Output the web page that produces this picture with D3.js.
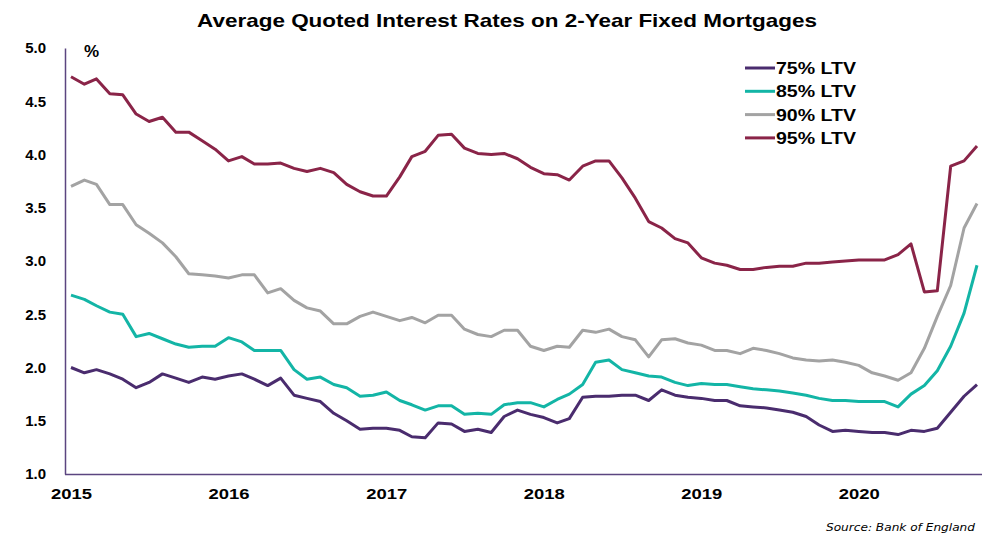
<!DOCTYPE html>
<html>
<head>
<meta charset="utf-8">
<script src="https://cdn.jsdelivr.net/npm/d3@7"></script>
<style>
  html, body { margin: 0; padding: 0; background: #ffffff; }
  svg { display: block; }
  text { font-family: "Liberation Sans", Arial, sans-serif; }
</style>
</head>
<body>
<svg id="chart" width="991" height="534"></svg>
<script>
// ---- Data (monthly, Jan 2015 – Oct 2020) ----
const startMonth = "2015-01";
const yearLabels = ["2015", "2016", "2017", "2018", "2019", "2020"];
const yTicks = [1.0, 1.5, 2.0, 2.5, 3.0, 3.5, 4.0, 4.5, 5.0];
const seriesNames = ["75% LTV", "85% LTV", "90% LTV", "95% LTV"];

const ltv75 = [2.00,1.95,1.98,1.94,1.89,1.81,1.86,1.94,1.90,1.86,1.91,1.89,
               1.92,1.94,1.89,1.83,1.90,1.74,1.71,1.68,1.57,1.50,1.42,1.43,
               1.43,1.41,1.35,1.34,1.48,1.47,1.40,1.42,1.39,1.54,1.60,1.56,
               1.53,1.48,1.52,1.72,1.73,1.73,1.74,1.74,1.69,1.79,1.74,1.72,
               1.71,1.69,1.69,1.64,1.63,1.62,1.60,1.58,1.54,1.46,1.40,1.41,
               1.40,1.39,1.39,1.37,1.41,1.40,1.43,1.58,1.73,1.84];
const ltv85 = [2.68,2.64,2.58,2.52,2.50,2.29,2.32,2.27,2.22,2.19,2.20,2.20,
               2.28,2.24,2.16,2.16,2.16,1.98,1.89,1.91,1.84,1.81,1.73,1.74,
               1.77,1.69,1.65,1.60,1.64,1.64,1.56,1.57,1.56,1.65,1.67,1.67,
               1.63,1.70,1.75,1.84,2.05,2.07,1.98,1.95,1.92,1.91,1.86,1.83,
               1.85,1.84,1.84,1.82,1.80,1.79,1.78,1.76,1.74,1.71,1.69,1.69,
               1.68,1.68,1.68,1.63,1.75,1.83,1.97,2.20,2.51,2.96];
const ltv90 = [3.70,3.76,3.72,3.53,3.53,3.34,3.26,3.17,3.04,2.88,2.87,2.86,
               2.84,2.87,2.87,2.70,2.74,2.63,2.56,2.53,2.41,2.41,2.48,2.52,
               2.48,2.44,2.47,2.42,2.49,2.49,2.36,2.31,2.29,2.35,2.35,2.20,
               2.16,2.20,2.19,2.35,2.33,2.36,2.29,2.26,2.10,2.26,2.27,2.23,
               2.21,2.16,2.16,2.13,2.18,2.16,2.13,2.09,2.07,2.06,2.07,2.05,
               2.02,1.95,1.92,1.88,1.95,2.18,2.48,2.77,3.31,3.54];
const ltv95 = [4.73,4.66,4.71,4.57,4.56,4.38,4.31,4.35,4.21,4.21,4.13,4.05,
               3.94,3.98,3.91,3.91,3.92,3.87,3.84,3.87,3.83,3.72,3.65,3.61,
               3.61,3.79,3.98,4.03,4.18,4.19,4.06,4.01,4.00,4.01,3.96,3.88,
               3.82,3.81,3.76,3.89,3.94,3.94,3.78,3.59,3.37,3.31,3.21,3.17,
               3.03,2.98,2.96,2.92,2.92,2.94,2.95,2.95,2.98,2.98,2.99,3.00,
               3.01,3.01,3.01,3.06,3.16,2.71,2.72,3.89,3.94,4.08];
const seriesColors = ["#4a2c6e", "#13b5a6", "#a3a3a3", "#8a2448"];

// ---- Setup ----
const svg = d3.select("#chart");
const parseMonth = d3.timeParse("%Y-%m");
const months = d3.timeMonth.range(parseMonth(startMonth), d3.timeMonth.offset(parseMonth(startMonth), ltv75.length));
const allSeries = [ltv75, ltv85, ltv90, ltv95];

const x = d3.scaleTime()
  .domain([months[0], months[months.length - 1]])
  .range([71, 977]);
const y = d3.scaleLinear().domain([1, 5]).range([474, 48]);

const axisColor = "#5b4680";

// Title
svg.append("text")
  .attr("x", 197).attr("y", 27)
  .attr("font-size", 19).attr("font-weight", "bold")
  .attr("fill", "#000")
  .attr("textLength", 620).attr("lengthAdjust", "spacingAndGlyphs")
  .text("Average Quoted Interest Rates on 2-Year Fixed Mortgages");

// Y axis labels
const yAxis = d3.axisLeft(y).tickValues(yTicks).tickFormat(d3.format(".1f")).tickSize(0).tickPadding(19);
const gy = svg.append("g").attr("transform", "translate(65,0)").call(yAxis);
gy.select(".domain").attr("stroke", axisColor).attr("stroke-width", 1.5);
gy.selectAll("text").attr("font-size", 15).attr("font-weight", "bold").attr("fill", "#000")
  .style("font-family", "'Liberation Sans', Arial, sans-serif");

// X axis
const yearDates = yearLabels.map(s => parseMonth(s + "-01"));
const xAxis = d3.axisBottom(x).tickValues(yearDates).tickFormat(d3.timeFormat("%Y")).tickSize(0).tickPadding(14);
const gx = svg.append("g").attr("transform", "translate(0,474)").call(xAxis);
gx.select(".domain").remove();
gx.selectAll("text").attr("font-size", 15).attr("font-weight", "bold").attr("fill", "#000")
  .style("font-family", "'Liberation Sans', Arial, sans-serif")
  .attr("textLength", 41).attr("lengthAdjust", "spacingAndGlyphs");
svg.append("line")
  .attr("x1", 65).attr("x2", 982).attr("y1", 474.5).attr("y2", 474.5)
  .attr("stroke", axisColor).attr("stroke-width", 1.5);

// % label
svg.append("text")
  .attr("x", 84).attr("y", 57)
  .attr("font-size", 17).attr("font-weight", "bold").attr("fill", "#000")
  .text("%");

// Lines
const line = d3.line()
  .x((d, i) => x(months[i]))
  .y(d => y(d));

allSeries.forEach((s, k) => {
  svg.append("path")
    .datum(s)
    .attr("fill", "none")
    .attr("stroke", seriesColors[k])
    .attr("stroke-width", 3)
    .attr("stroke-linejoin", "round")
    .attr("d", line);
});

// Legend
const legend = svg.append("g").attr("transform", "translate(745,68)");
seriesNames.forEach((name, k) => {
  const g = legend.append("g").attr("transform", `translate(0,${k * 23.3})`);
  g.append("line").attr("x1", 0).attr("x2", 30).attr("y1", 0).attr("y2", 0)
    .attr("stroke", seriesColors[k]).attr("stroke-width", 3);
  g.append("text").attr("x", 31).attr("y", 6)
    .attr("font-size", 16).attr("font-weight", "bold").attr("fill", "#000")
    .attr("textLength", 80).attr("lengthAdjust", "spacingAndGlyphs")
    .text(name);
});

// Source
svg.append("text")
  .attr("x", 975).attr("y", 531)
  .attr("text-anchor", "end")
  .style("font-family", "'DejaVu Sans', Verdana, sans-serif")
  .attr("font-style", "italic")
  .attr("font-size", 11).attr("fill", "#000")
  .attr("textLength", 149).attr("lengthAdjust", "spacingAndGlyphs")
  .text("Source: Bank of England");
</script>
</body>
</html>
